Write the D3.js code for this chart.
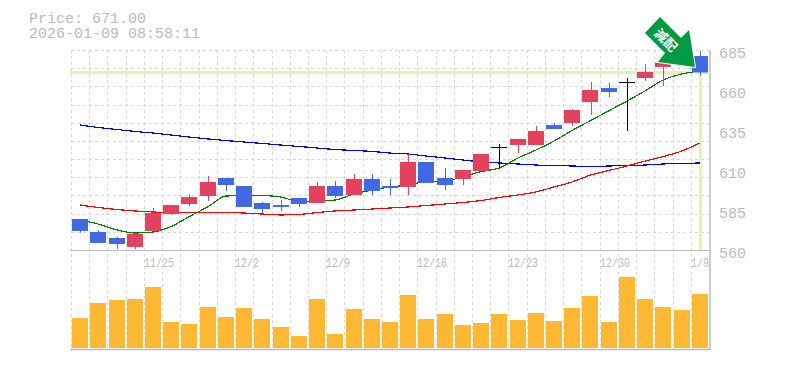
<!DOCTYPE html>
<html>
<head>
<meta charset="utf-8">
<script src="https://cdn.jsdelivr.net/npm/d3@7"></script>
<style>
  html, body { margin: 0; padding: 0; background: #fff; }
  text { font-family: "Liberation Mono", monospace; fill: #bbb; }
</style>
</head>
<body>
<div id="chart"></div>
<script>
// trading days, oldest first
const dates = ['11/18','11/19','11/20','11/21','11/25','11/26','11/27','11/28','12/1','12/2',
  '12/3','12/4','12/5','12/8','12/9','12/10','12/11','12/12','12/15','12/16',
  '12/17','12/18','12/19','12/22','12/23','12/24','12/25','12/26','12/29','12/30',
  '1/5','1/6','1/7','1/8','1/9'];
const tickDates = ['11/25','12/2','12/9','12/16','12/23','12/30','1/9'];
const priceTicks = [685, 660, 635, 610, 585, 560];

// candle prices
const open  = [579.4,571.25,567.5,561.9,571.9,582.5,588.75,593.75,605,600,589.4,588.1,592.5,589.4,600,594.4,604.4,600,599.4,615,605,604.4,609.4,624.4,625.6,625.6,638.1,639.4,652.5,661.25,665,667.5,674.4,681.25,681.25];
const high  = [579.4,572.5,568.1,570.2,586.25,588.1,595,606.25,605,600,590,591.25,592.5,602.5,603.1,607.5,607.5,604.4,620,615,611.25,610,620,626.25,629.4,637.5,639.4,648.1,665,664.4,667.5,676.25,678.75,682,684.4];
const low   = [570.8,564.4,560.6,560.6,571.9,581.9,587.5,590.6,596.9,586.9,582.5,584.4,586.9,589.4,592.5,594.4,594.4,594.4,594.4,601.9,597.5,600.6,609.4,610.6,620.6,625.6,635.6,637.5,644.4,655.6,634.4,665.6,662.5,676.9,669];
const close = [571.9,564.4,563.75,570.2,583.1,588.1,593.1,602.5,600.6,586.9,585.6,586.9,588.75,600,593.75,604.4,596.9,598.75,615,601.9,600.6,610,620,624.4,629.4,634.4,635.6,647.5,660,658.75,665,671.25,676.9,676.9,671];
const lastPrice = 671;

// moving averages
const maShort = [578.75,576.25,572.5,570.6,571.25,574.6,580.8,587.1,593.75,594,594,593.1,590.2,590.6,591.25,595,597.5,599.4,600.6,602.7,603.1,605.8,609,611.25,617.5,622.5,628.1,634.7,641,647.1,653.1,659.4,666.25,670,671.9];
const maMid = [588.1,586.6,585.3,584.4,583.75,583.4,583.4,583.4,583.4,583.1,582.5,581.9,582.2,583.4,584.4,585,585.6,586.25,586.9,587.8,588.75,589.7,590.9,592.8,594.4,596.25,599.4,602.5,606.9,609.7,612.5,615.6,618.4,621.9,626.9];
const maLong = [638.1,636.6,635.3,634.1,633.1,631.9,630.6,629.4,628.4,627.5,626.6,625.6,624.7,623.75,622.8,622.2,621.6,620.6,620,618.75,617.5,616.25,615,614.4,613.75,613.1,612.8,612.5,612.2,612.5,612.8,613.1,613.75,614.1,614.4];

// volume, in thousands
const volume = [30,45,48,49,61,26,24,41,31,40,29,21,12,49,14,39,29,26,53,29,34,23,25,34,28,35,27,40,52,26,71,49,41,38,54];

const width = 785, height = 370;
const plotLeft = 71, plotRight = 709, plotTop = 50, plotMid = 250, plotBottom = 349;

const svg = d3.select('#chart').append('svg')
    .attr('width', width)
    .attr('height', height)
    .style('display', 'block');

const x = d3.scaleBand(dates, [plotLeft, plotRight]).paddingInner(0.12).paddingOuter(0.06);
const y = d3.scaleLinear([560, 685], [plotMid, plotTop]);
const yVol = d3.scaleLinear([0, 100], [plotBottom - 1, plotBottom - 101]);
const cx = d => Math.round(x(d) + x.bandwidth() / 2);
const bx = d => Math.round(x(d));
const gridX = d => Math.round(x(d) - x.step() * 0.06);

// grid
const grid = svg.append('g')
    .attr('stroke', '#d8d8d8')
    .attr('stroke-dasharray', '3,3')
    .attr('shape-rendering', 'crispEdges');
grid.selectAll('line.v').data(dates).join('line')
    .attr('class', 'v')
    .attr('x1', d => gridX(d) + 0.5)
    .attr('x2', d => gridX(d) + 0.5)
    .attr('y1', plotTop).attr('y2', plotBottom);
grid.selectAll('line.h').data(d3.range(11)).join('line')
    .attr('class', 'h')
    .attr('x1', plotLeft).attr('x2', plotRight)
    .attr('y1', d => Math.round(plotTop + (plotMid - plotTop) / 11 * d) + 0.5)
    .attr('y2', d => Math.round(plotTop + (plotMid - plotTop) / 11 * d) + 0.5);

// frame
const frame = svg.append('g').attr('stroke', '#bbb').attr('stroke-width', 1.5);
frame.append('line').attr('x1', plotLeft - 1).attr('x2', plotRight + 1).attr('y1', plotMid + 0.5).attr('y2', plotMid + 0.5).attr('stroke-width', 1);
frame.append('line').attr('x1', plotLeft - 1).attr('x2', plotRight + 1).attr('y1', plotBottom + 0.5).attr('y2', plotBottom + 0.5);
frame.append('line').attr('x1', plotRight + 1).attr('x2', plotRight + 1).attr('y1', plotTop).attr('y2', plotBottom + 1);

// current price marker
svg.append('line')
    .attr('x1', plotLeft - 1).attr('x2', plotRight + 1)
    .attr('y1', y(lastPrice)).attr('y2', y(lastPrice))
    .attr('stroke', '#e3f5a8').attr('stroke-width', 3);
svg.append('line')
    .attr('x1', cx('1/9') + 0.5).attr('x2', cx('1/9') + 0.5)
    .attr('y1', y(lastPrice)).attr('y2', plotMid)
    .attr('stroke', '#e3f5a8').attr('stroke-width', 3);

// moving averages
const line = d3.line().x((d, i) => cx(dates[i])).y(d => y(d)).curve(d3.curveMonotoneX);
[[maLong, '#0000ff'], [maMid, '#ff0000'], [maShort, '#008000']].forEach(([ma, color]) => {
    svg.append('path').attr('d', line(ma))
        .attr('fill', 'none').attr('stroke', color).attr('stroke-width', 1.2)
        .attr('shape-rendering', 'crispEdges');
});

// candles
const candleColor = i => close[i] > open[i] ? '#e3425f' : close[i] < open[i] ? '#4169e1' : '#000';
const candles = svg.append('g').selectAll('g').data(dates).join('g');
candles.append('line')
    .attr('x1', d => cx(d) + 0.5).attr('x2', d => cx(d) + 0.5)
    .attr('y1', (d, i) => y(high[i])).attr('y2', (d, i) => y(low[i]))
    .attr('stroke', (d, i) => candleColor(i));
candles.append('rect')
    .attr('x', bx)
    .attr('y', (d, i) => y(Math.max(open[i], close[i])))
    .attr('width', 16)
    .attr('height', (d, i) => Math.max(1, y(Math.min(open[i], close[i])) - y(Math.max(open[i], close[i]))))
    .attr('fill', (d, i) => candleColor(i));

// volume bars
svg.append('g').selectAll('rect').data(dates).join('rect')
    .attr('x', bx)
    .attr('y', (d, i) => yVol(volume[i]))
    .attr('width', 16)
    .attr('height', (d, i) => yVol(0) - yVol(volume[i]))
    .attr('fill', '#ffb833');

// axes labels
svg.append('g').selectAll('text').data(priceTicks).join('text')
    .attr('x', 719).attr('y', d => y(d) + 8)
    .attr('font-size', 15)
    .text(d => d);
// date labels are tall and narrow in the original, so squeeze them sideways
svg.append('g').selectAll('text').data(tickDates).join('text')
    .attr('transform', d => `translate(${gridX(d)},${plotMid + 17}) scale(0.83,1)`)
    .attr('font-size', 12)
    .text(d => d);

// header
svg.append('text').attr('x', 29).attr('y', 23).attr('font-size', 15).text('Price: 671.00');
svg.append('text').attr('x', 29).attr('y', 38).attr('font-size', 15).text('2026-01-09 08:58:11');

// earnings arrow
const arrowShape = [[660,17],[645,33],[665,53],[658,62],[695,67],[689,30],[681,38]];
svg.append('polygon')
    .attr('points', arrowShape.join(' '))
    .attr('fill', '#009944')
    .attr('stroke', '#fff').attr('stroke-width', 2)
    .attr('paint-order', 'stroke');
svg.append('text')
    .attr('transform', 'translate(666,40) rotate(45)')
    .attr('text-anchor', 'middle')
    .attr('dy', 5)
    .attr('font-size', 13)
    .style('font-family', '"Noto Sans CJK JP"')
    .style('font-weight', 700)
    .style('fill', '#fff')
    .text('減配');
</script>
</body>
</html>
